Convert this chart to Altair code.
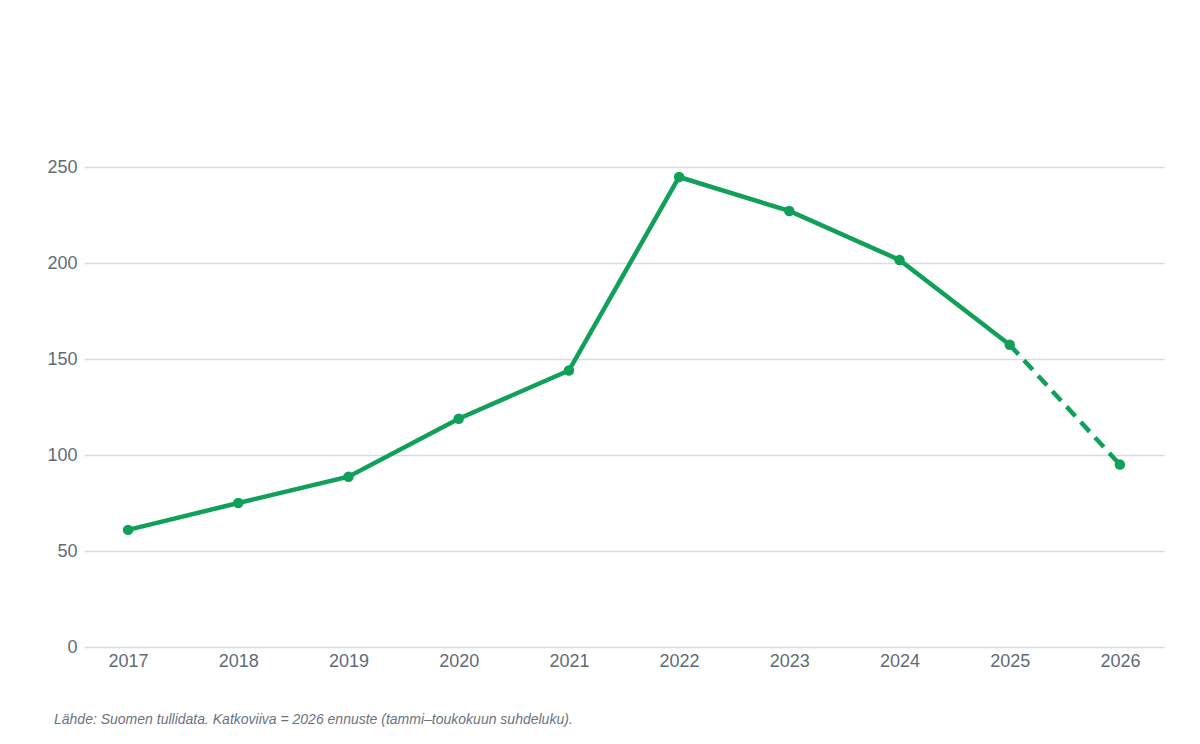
import altair as alt
import pandas as pd

years = ["2017", "2018", "2019", "2020", "2021", "2022", "2023", "2024", "2025", "2026"]
values = [61, 75, 88.7, 118.9, 144, 244.8, 227.1, 201.6, 157.4, 95]
forecast_from = 8  # index of last actual year (2025); 2026 is forecast
y_ticks = [0, 50, 100, 150, 200, 250]
footnote = "Lähde: Suomen tullidata. Katkoviiva = 2026 ennuste (tammi–toukokuun suhdeluku)."

GREEN = "#10a05a"
FONT = "Liberation Sans"

df = pd.DataFrame({"year": years, "value": values})
solid_df = df.iloc[: forecast_from + 1]
dash_df = df.iloc[forecast_from:]

x = alt.X("year:O", title=None,
          scale=alt.Scale(padding=0.4),
          axis=alt.Axis(labelAngle=0, ticks=False, domain=False, grid=False,
                        labelFontSize=18, labelColor="#5f6b7a", labelFont=FONT,
                        labelPadding=5))
y = alt.Y("value:Q", title=None,
          scale=alt.Scale(domain=[0, 250], nice=False),
          axis=alt.Axis(values=y_ticks, ticks=False, domain=False, grid=True,
                        gridColor="#d8dbe0", gridWidth=1.5,
                        labelFontSize=18, labelColor="#5f6b7a", labelFont=FONT,
                        labelPadding=7))

solid = alt.Chart(solid_df).mark_line(color=GREEN, strokeWidth=4.5).encode(x=x, y=y)
dashed = alt.Chart(dash_df).mark_line(color=GREEN, strokeWidth=4.5,
                                      strokeDash=[13, 8]).encode(x=x, y=y)
points = alt.Chart(df).mark_circle(color=GREEN, size=110, opacity=1).encode(x=x, y=y)

note = alt.Chart(pd.DataFrame({"t": [footnote]})).mark_text(
    align="left", baseline="middle", fontStyle="italic", fontSize=14,
    font=FONT, color="#6b7380"
).encode(x=alt.value(-30), y=alt.value(553), text="t:N")

chart = alt.layer(solid, dashed, points, note).properties(
    width=1080, height=480,
    autosize=alt.AutoSizeParams(type="none"),
    padding={"left": 76, "top": 159, "right": 20, "bottom": 80},
    background="white",
).configure_view(stroke=None)

chart.save("out.html", embed_options={"renderer": "svg", "actions": False})
